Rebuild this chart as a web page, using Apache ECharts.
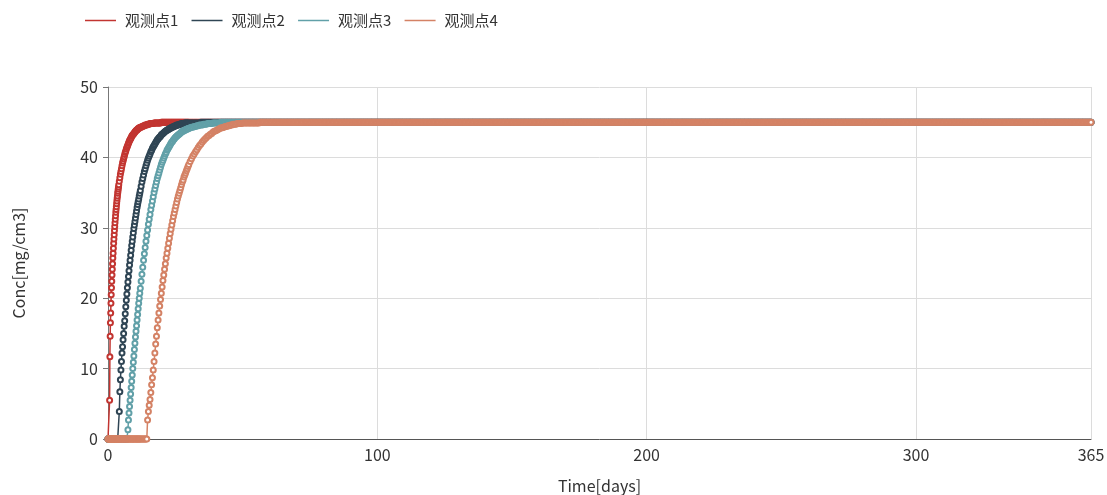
<!DOCTYPE html>
<html>
<head>
<meta charset="utf-8">
<script src="https://cdn.jsdelivr.net/npm/echarts/dist/echarts.min.js"></script>
<style>html,body{margin:0;padding:0;background:#fff}#main{width:1107px;height:495px}</style>
</head>
<body>
<div id="main"></div>
<script>
// Series names and colours
const seriesNames = ['观测点1', '观测点2', '观测点3', '观测点4'];
const seriesColors = ['#c23531', '#2f4554', '#61a0a8', '#d48265'];
const xTicks = [0, 100, 200, 300, 365];
const yTicks = [0, 10, 20, 30, 40, 50];

// Early output times (days), where the curves rise
const days = [
  0,0.1,0.2,0.3,0.4,0.5,0.6,0.7,0.8,0.9,1,1.1,1.2,1.3,1.4,1.5,1.6,1.7,1.8,1.9,2,2.1,2.2,2.3,2.4,2.5,2.6,2.7,2.8,2.9,3,3.1,3.2,3.3,3.4,3.5,3.6,3.7,3.8,3.9,4,
  4.2,4.4,4.6,4.8,5,5.2,5.4,5.6,5.8,6,6.2,6.4,6.6,6.8,7,7.2,7.4,7.6,7.8,8,8.2,8.4,8.6,8.8,9,9.2,9.4,9.6,9.8,10,10.2,10.4,10.6,10.8,11,11.2,11.4,11.6,11.8,12,
  12.3,12.6,12.9,13.2,13.5,13.8,14.1,14.4,14.7,15,15.3,15.6,15.9,16.2,16.5,16.8,17.1,17.4,17.7,18,18.3,18.6,18.9,19.2,19.5,19.8,20.1,20.4,20.7,21,21.3,21.6,21.9,22.2,22.5,22.8,23.1,23.4,23.7,24,24.3,24.6,24.9,25.2,25.5,25.8,26.1,26.4,26.7,27,27.3,27.6,27.9,28.2,28.5,28.8,29.1,29.4,29.7,30,
  30.5,31,31.5,32,32.5,33,33.5,34,34.5,35,35.5,36,36.5,37,37.5,38,38.5,39,39.5,40,40.5,41,41.5,42,42.5,43,43.5,44,44.5,45,45.5,46,46.5,47,47.5,48,48.5,49,49.5,50,50.5,51,51.5,52,52.5,53,53.5,54,54.5,55,55.5,56,56.5,57,57.5,58,58.5,59,59.5,60
];

// 观测点1 concentration at `days`
const conc1 = [
  0,0,0,0,0,0,5.5,11.7,14.6,16.5,17.9,19.3,20.5,21.5,22.4,23.3,24.1,24.9,25.7,26.4,27.1,27.8,28.4,29.0,29.6,30.2,30.7,31.2,31.7,32.2,32.6,33.0,33.4,33.8,34.2,34.5,34.9,35.2,35.5,35.8,36.1,
  36.6,37.1,37.6,38.0,38.4,38.8,39.2,39.5,39.8,40.1,40.4,40.7,40.9,41.2,41.4,41.6,41.8,42.0,42.2,42.4,42.5,42.7,42.8,43.0,43.1,43.2,43.3,43.4,43.5,43.6,43.7,43.8,43.9,43.9,44.0,44.1,44.1,44.2,44.2,44.3,
  44.3,44.4,44.4,44.5,44.5,44.6,44.6,44.6,44.7,44.7,44.7,44.8,44.8,44.8,44.8,44.8,44.9,44.9,44.9,44.9,44.9,44.9,44.9,44.9,44.9,
  45,45,45,45,45,45,45,45,45,45,45,45,45,45,45,45,45,45,45,45,45,45,45,45,45,45,45,45,45,45,45,45,45,45,45,
  45,45,45,45,45,45,45,45,45,45,45,45,45,45,45,45,45,45,45,45,45,45,45,45,45,45,45,45,45,45,
  45,45,45,45,45,45,45,45,45,45,45,45,45,45,45,45,45,45,45,45,45,45,45,45,45,45,45,45,45,45
];
// 观测点2
const conc2 = [
  0,0,0,0,0,0,0,0,0,0,0,0,0,0,0,0,0,0,0,0,0,0,0,0,0,0,0,0,0,0,0,0,0,0,0,0,0,0,0,0,0,
  3.9,6.7,8.4,9.8,11.0,12.2,13.1,14.1,15.0,16.0,16.8,17.8,18.8,19.7,20.6,21.5,22.3,23.1,23.9,24.7,25.4,26.1,26.8,27.5,28.1,28.7,29.3,29.9,30.4,30.9,31.4,31.9,32.4,32.9,33.3,33.7,34.1,34.5,34.9,35.3,
  35.9,36.5,37.0,37.5,38.0,38.4,38.8,39.2,39.6,39.9,40.2,40.5,40.8,41.0,41.3,41.5,41.7,41.9,42.1,42.3,42.5,42.6,42.8,42.9,43.0,43.2,43.3,43.4,43.5,43.6,
  43.7,43.8,43.9,43.9,44.0,44.1,44.1,44.2,44.3,44.3,44.4,44.4,44.5,44.5,44.6,44.6,44.6,44.7,44.7,44.7,44.8,44.8,44.8,44.8,44.9,44.9,44.9,44.9,44.9,44.9,
  44.9,44.9,44.9,44.9,44.9,44.9,44.9,44.9,
  45,45,45,45,45,45,45,45,45,45,45,45,45,45,45,45,45,45,45,45,45,45,45,45,45,45,
  45,45,45,45,45,45,45,45,45,45,45,45,45,45,45,45,45,45,45,45,45,45,45,45,45,45
];
// 观测点3
const conc3 = [
  0,0,0,0,0,0,0,0,0,0,0,0,0,0,0,0,0,0,0,0,0,0,0,0,0,0,0,0,0,0,0,0,0,0,0,0,0,0,0,0,0,
  0,0,0,0,0,0,0,0,0,0,0,0,0,0,0,0,1.3,2.7,3.7,4.6,5.5,6.4,7.3,8.2,9.1,10.0,10.9,11.8,12.7,13.6,14.5,15.3,16.1,16.9,17.7,18.5,19.3,20.0,20.7,21.4,
  22.4,23.4,24.4,25.4,26.3,27.2,28.1,28.9,29.7,30.5,31.2,31.9,32.6,33.2,33.8,34.4,35.0,35.5,36.0,36.5,37.0,37.4,37.8,38.2,38.6,39.0,39.3,39.6,39.9,40.2,40.5,40.7,41.0,41.2,41.4,41.6,41.8,42.0,42.2,42.3,42.5,42.6,42.8,42.9,43.0,43.1,43.2,43.3,43.4,43.5,43.6,43.7,43.7,43.8,43.9,43.9,44.0,44.0,44.1,44.1,
  44.2,44.3,44.3,44.4,44.4,44.5,44.5,44.6,44.6,44.6,44.7,44.7,44.7,44.8,44.8,44.8,44.8,44.9,44.9,44.9,44.9,44.9,44.9,
  45,45,45,45,45,45,45,45,45,45,45,45,45,45,45,45,45,45,45,
  45,45,45,45,45,45,45,45,45,45,45,45,45,45,45,45,45,45
];
// 观测点4
const conc4 = [
  0,0,0,0,0,0,0,0,0,0,0,0,0,0,0,0,0,0,0,0,0,0,0,0,0,0,0,0,0,0,0,0,0,0,0,0,0,0,0,0,0,
  0,0,0,0,0,0,0,0,0,0,0,0,0,0,0,0,0,0,0,0,0,0,0,0,0,0,0,0,0,0,0,0,0,0,0,0,0,0,0,0,
  0,0,0,0,0,0,0,0,2.7,3.9,4.8,5.6,6.6,7.7,8.7,9.8,11.0,12.2,13.5,14.6,15.8,16.9,17.9,18.9,19.8,20.7,21.6,22.5,23.3,24.1,24.9,25.7,26.4,27.1,27.8,28.5,29.2,29.8,30.4,31.0,31.6,32.1,32.6,33.1,33.6,34.1,34.5,34.9,35.3,35.7,36.1,36.5,36.8,37.2,37.5,37.8,38.1,38.4,38.7,39.0,
  39.4,39.8,40.2,40.5,40.8,41.1,41.4,41.7,41.9,42.2,42.4,42.6,42.8,43.0,43.1,43.3,43.4,43.6,43.7,43.8,43.9,44.0,44.1,44.2,44.2,44.3,44.4,44.4,44.5,44.5,44.6,44.6,44.7,44.7,44.7,44.8,44.8,44.8,44.8,44.9,44.9,44.9,44.9,44.9,44.9,44.9,44.9,44.9,44.9,44.9,44.9,44.9,
  45,45,45,45,45,45,45,45
];

// Later output times (days): all four points sit on the 45 plateau
const plateauDays = [
  60.5,61,61.5,62,62.5,63,63.5,64,64.5,65,65.5,66,66.5,67,67.5,68,68.5,69,69.5,70,
  70.5,71,71.5,72,72.5,73,73.5,74,74.5,75,75.5,76,76.5,77,77.5,78,78.5,79,79.5,80,
  80.5,81,81.5,82,82.5,83,83.5,84,84.5,85,85.5,86,86.5,87,87.5,88,88.5,89,89.5,90,
  90.5,91,91.5,92,92.5,93,93.5,94,94.5,95,95.5,96,96.5,97,97.5,98,98.5,99,99.5,100,
  100.5,101,101.5,102,102.5,103,103.5,104,104.5,105,105.5,106,106.5,107,107.5,108,108.5,109,109.5,110,
  110.5,111,111.5,112,112.5,113,113.5,114,114.5,115,115.5,116,116.5,117,117.5,118,118.5,119,119.5,120,
  120.5,121,121.5,122,122.5,123,123.5,124,124.5,125,125.5,126,126.5,127,127.5,128,128.5,129,129.5,130,
  130.5,131,131.5,132,132.5,133,133.5,134,134.5,135,135.5,136,136.5,137,137.5,138,138.5,139,139.5,140,
  140.5,141,141.5,142,142.5,143,143.5,144,144.5,145,145.5,146,146.5,147,147.5,148,148.5,149,149.5,150,
  150.5,151,151.5,152,152.5,153,153.5,154,154.5,155,155.5,156,156.5,157,157.5,158,158.5,159,159.5,160,
  160.5,161,161.5,162,162.5,163,163.5,164,164.5,165,165.5,166,166.5,167,167.5,168,168.5,169,169.5,170,
  170.5,171,171.5,172,172.5,173,173.5,174,174.5,175,175.5,176,176.5,177,177.5,178,178.5,179,179.5,180,
  180.5,181,181.5,182,182.5,183,183.5,184,184.5,185,185.5,186,186.5,187,187.5,188,188.5,189,189.5,190,
  190.5,191,191.5,192,192.5,193,193.5,194,194.5,195,195.5,196,196.5,197,197.5,198,198.5,199,199.5,200,
  200.5,201,201.5,202,202.5,203,203.5,204,204.5,205,205.5,206,206.5,207,207.5,208,208.5,209,209.5,210,
  210.5,211,211.5,212,212.5,213,213.5,214,214.5,215,215.5,216,216.5,217,217.5,218,218.5,219,219.5,220,
  220.5,221,221.5,222,222.5,223,223.5,224,224.5,225,225.5,226,226.5,227,227.5,228,228.5,229,229.5,230,
  230.5,231,231.5,232,232.5,233,233.5,234,234.5,235,235.5,236,236.5,237,237.5,238,238.5,239,239.5,240,
  240.5,241,241.5,242,242.5,243,243.5,244,244.5,245,245.5,246,246.5,247,247.5,248,248.5,249,249.5,250,
  250.5,251,251.5,252,252.5,253,253.5,254,254.5,255,255.5,256,256.5,257,257.5,258,258.5,259,259.5,260,
  260.5,261,261.5,262,262.5,263,263.5,264,264.5,265,265.5,266,266.5,267,267.5,268,268.5,269,269.5,270,
  270.5,271,271.5,272,272.5,273,273.5,274,274.5,275,275.5,276,276.5,277,277.5,278,278.5,279,279.5,280,
  280.5,281,281.5,282,282.5,283,283.5,284,284.5,285,285.5,286,286.5,287,287.5,288,288.5,289,289.5,290,
  290.5,291,291.5,292,292.5,293,293.5,294,294.5,295,295.5,296,296.5,297,297.5,298,298.5,299,299.5,300,
  300.5,301,301.5,302,302.5,303,303.5,304,304.5,305,305.5,306,306.5,307,307.5,308,308.5,309,309.5,310,
  310.5,311,311.5,312,312.5,313,313.5,314,314.5,315,315.5,316,316.5,317,317.5,318,318.5,319,319.5,320,
  320.5,321,321.5,322,322.5,323,323.5,324,324.5,325,325.5,326,326.5,327,327.5,328,328.5,329,329.5,330,
  330.5,331,331.5,332,332.5,333,333.5,334,334.5,335,335.5,336,336.5,337,337.5,338,338.5,339,339.5,340,
  340.5,341,341.5,342,342.5,343,343.5,344,344.5,345,345.5,346,346.5,347,347.5,348,348.5,349,349.5,350,
  350.5,351,351.5,352,352.5,353,353.5,354,354.5,355,355.5,356,356.5,357,357.5,358,358.5,359,359.5,360,
  360.5,361,361.5,362,362.5,363,363.5,364,364.5,365
];
const plateauConc = [
  45,45,45,45,45,45,45,45,45,45,45,45,45,45,45,45,45,45,45,45,
  45,45,45,45,45,45,45,45,45,45,45,45,45,45,45,45,45,45,45,45,
  45,45,45,45,45,45,45,45,45,45,45,45,45,45,45,45,45,45,45,45,
  45,45,45,45,45,45,45,45,45,45,45,45,45,45,45,45,45,45,45,45,
  45,45,45,45,45,45,45,45,45,45,45,45,45,45,45,45,45,45,45,45,
  45,45,45,45,45,45,45,45,45,45,45,45,45,45,45,45,45,45,45,45,
  45,45,45,45,45,45,45,45,45,45,45,45,45,45,45,45,45,45,45,45,
  45,45,45,45,45,45,45,45,45,45,45,45,45,45,45,45,45,45,45,45,
  45,45,45,45,45,45,45,45,45,45,45,45,45,45,45,45,45,45,45,45,
  45,45,45,45,45,45,45,45,45,45,45,45,45,45,45,45,45,45,45,45,
  45,45,45,45,45,45,45,45,45,45,45,45,45,45,45,45,45,45,45,45,
  45,45,45,45,45,45,45,45,45,45,45,45,45,45,45,45,45,45,45,45,
  45,45,45,45,45,45,45,45,45,45,45,45,45,45,45,45,45,45,45,45,
  45,45,45,45,45,45,45,45,45,45,45,45,45,45,45,45,45,45,45,45,
  45,45,45,45,45,45,45,45,45,45,45,45,45,45,45,45,45,45,45,45,
  45,45,45,45,45,45,45,45,45,45,45,45,45,45,45,45,45,45,45,45,
  45,45,45,45,45,45,45,45,45,45,45,45,45,45,45,45,45,45,45,45,
  45,45,45,45,45,45,45,45,45,45,45,45,45,45,45,45,45,45,45,45,
  45,45,45,45,45,45,45,45,45,45,45,45,45,45,45,45,45,45,45,45,
  45,45,45,45,45,45,45,45,45,45,45,45,45,45,45,45,45,45,45,45,
  45,45,45,45,45,45,45,45,45,45,45,45,45,45,45,45,45,45,45,45,
  45,45,45,45,45,45,45,45,45,45,45,45,45,45,45,45,45,45,45,45,
  45,45,45,45,45,45,45,45,45,45,45,45,45,45,45,45,45,45,45,45,
  45,45,45,45,45,45,45,45,45,45,45,45,45,45,45,45,45,45,45,45,
  45,45,45,45,45,45,45,45,45,45,45,45,45,45,45,45,45,45,45,45,
  45,45,45,45,45,45,45,45,45,45,45,45,45,45,45,45,45,45,45,45,
  45,45,45,45,45,45,45,45,45,45,45,45,45,45,45,45,45,45,45,45,
  45,45,45,45,45,45,45,45,45,45,45,45,45,45,45,45,45,45,45,45,
  45,45,45,45,45,45,45,45,45,45,45,45,45,45,45,45,45,45,45,45,
  45,45,45,45,45,45,45,45,45,45,45,45,45,45,45,45,45,45,45,45,
  45,45,45,45,45,45,45,45,45,45
];

const concs = [conc1, conc2, conc3, conc4];
if (plateauDays.length !== plateauConc.length) throw new Error('plateau length ' + plateauDays.length + ' vs ' + plateauConc.length);
concs.forEach((c, i) => { if (c.length !== days.length) throw new Error(seriesNames[i] + ' length ' + c.length + ' vs ' + days.length); });

const FONT = "'Noto Sans CJK SC','Noto Sans',sans-serif";

function buildData(conc) {
  const out = [];
  for (let k = 0; k < days.length; k++) out.push([days[k], conc[k]]);
  for (let k = 0; k < plateauDays.length; k++) out.push([plateauDays[k], plateauConc[k]]);
  return out;
}

const chart = echarts.init(document.getElementById('main'), null, { renderer: 'canvas' });
chart.setOption({
  animation: false,
  color: seriesColors,
  textStyle: { fontFamily: FONT },
  legend: {
    left: 80, top: 8,
    icon: 'rect', itemWidth: 31, itemHeight: 1.5, itemGap: 13.2,
    itemStyle: { borderWidth: 0 },
    textStyle: { fontSize: 15, color: '#333', fontFamily: FONT, padding: [0, 0, 0, 4] },
    data: seriesNames
  },
  grid: { left: 108, right: 16, top: 87, bottom: 56, outerBoundsMode: 'none', containLabel: false },
  xAxis: {
    type: 'value', min: xTicks[0], max: xTicks[xTicks.length - 1], interval: 100,
    name: 'Time[days]', nameLocation: 'middle', nameGap: 39,
    nameTextStyle: { fontSize: 16, color: '#333', fontFamily: FONT },
    axisLine: { show: true, lineStyle: { color: '#555' } },
    axisTick: { show: false },
    axisLabel: { fontSize: 16, color: '#333', margin: 8, fontFamily: FONT, showMaxLabel: true, showMinLabel: true },
    splitLine: { show: true, lineStyle: { color: '#dcdcdc' } }
  },
  yAxis: {
    type: 'value', min: yTicks[0], max: yTicks[yTicks.length - 1], interval: 10,
    name: 'Conc[mg/cm3]', nameLocation: 'middle', nameGap: 81,
    nameTextStyle: { fontSize: 16, color: '#333', fontFamily: FONT },
    axisLine: { show: true, lineStyle: { color: '#777' } },
    axisTick: { show: true, length: 5, lineStyle: { color: '#777' } },
    axisLabel: { fontSize: 16, color: '#333', margin: 10, fontFamily: FONT },
    splitLine: { show: true, lineStyle: { color: '#dcdcdc' } }
  },
  series: seriesNames.map((name, i) => ({
    name: name,
    type: 'line',
    data: buildData(concs[i]),
    symbol: 'emptyCircle',
    symbolSize: 5,
    lineStyle: { width: 1.5, color: seriesColors[i] },
    itemStyle: { color: seriesColors[i], borderColor: seriesColors[i], borderWidth: 1.3 },
    emphasis: { disabled: true }
  }))
});
</script>
</body>
</html>
